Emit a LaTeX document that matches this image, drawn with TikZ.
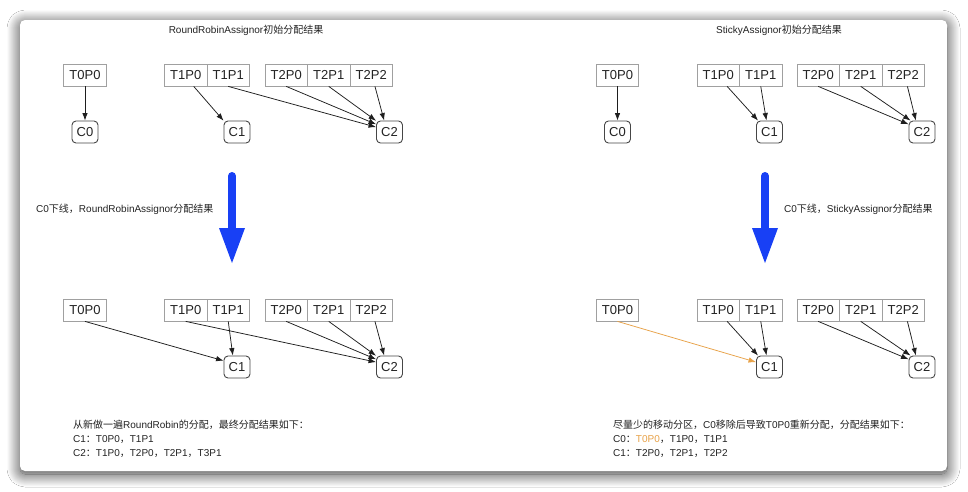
\documentclass[tikz,border=0pt]{standalone}
\usepackage{fontspec}
\setmainfont{Liberation Sans}
\newfontfamily\cjk{Noto Sans CJK SC}
\usetikzlibrary{shadows.blur,arrows.meta,calc}
\newcommand\zh[1]{{\cjk #1}}
\definecolor{txt}{RGB}{35,35,35}
\definecolor{boxgray}{RGB}{160,160,160}
\definecolor{cgray}{RGB}{70,70,70}
\definecolor{linecol}{RGB}{30,30,30}
\definecolor{blueA}{RGB}{24,64,245}
\definecolor{orangeA}{RGB}{232,162,72}
\begin{document}
\begin{tikzpicture}[x=1pt,y=-1pt,
  part/.style={draw=boxgray, line width=0.8pt, minimum width=42.5pt, minimum height=22pt, inner sep=0pt, font=\fontsize{13}{15}\selectfont, text=txt},
  cons/.style={draw=cgray, rounded corners=4pt, line width=0.9pt, minimum width=26pt, minimum height=22pt, inner sep=0pt, font=\fontsize{13}{15}\selectfont, text=txt},
  link/.style={-{Latex[length=7.5pt,width=5.5pt]}, line width=0.75pt, draw=linecol},
  olink/.style={-{Latex[length=7.5pt,width=5.5pt]}, line width=0.75pt, draw=orangeA},
  note/.style={font=\fontsize{10}{12}\selectfont, text=txt, inner sep=0pt},
  bigshaft/.style={draw=blueA, line width=8pt, line cap=round},
  bighead/.style={fill=blueA}]
\useasboundingbox (0,0) rectangle (968,491);
\fill[white] (0,0) rectangle (968,491);
% card
\fill[white, rounded corners=5pt, blur shadow={shadow blur radius=13pt, shadow blur steps=20, shadow xshift=0pt, shadow yshift=-3pt, shadow opacity=80}] (20,20) rectangle (947,471);

% ---------- titles ----------
\node[note] (titleL) at (246,30) {RoundRobinAssignor\zh{初始分配结果}};
\node[note] (titleR) at (779,30) {StickyAssignor\zh{初始分配结果}};

% ---------- top-left ----------
\node[part] (LT00) at (85,75) {T0P0};
\node[part] (LT10) at (185.75,75) {T1P0};
\node[part] (LT11) at (228.25,75) {T1P1};
\node[part] (LT20) at (286.25,75) {T2P0};
\node[part] (LT21) at (328.75,75) {T2P1};
\node[part] (LT22) at (371.25,75) {T2P2};
\node[cons] (LTC0) at (85,132) {C0};
\node[cons] (LTC1) at (237,132) {C1};
\node[cons] (LTC2) at (389.5,132) {C2};
\draw[link] (LT00.south) -- (LTC0.north);
\draw[link] (LT10.-55) -- (LTC1.140);
\draw[link] (LT11.south) -- (LTC2.160);
\draw[link] (LT20.south) -- (LTC2.150);
\draw[link] (LT21.south) -- (LTC2.140);
\draw[link] (LT22.-72) -- (LTC2.115);

% ---------- top-right ----------
\node[part] (RT00) at (617.5,75) {T0P0};
\node[part] (RT10) at (718.25,75) {T1P0};
\node[part] (RT11) at (760.75,75) {T1P1};
\node[part] (RT20) at (818.25,75) {T2P0};
\node[part] (RT21) at (860.75,75) {T2P1};
\node[part] (RT22) at (903.25,75) {T2P2};
\node[cons] (RTC0) at (617.5,132) {C0};
\node[cons] (RTC1) at (769.5,132) {C1};
\node[cons] (RTC2) at (922,132) {C2};
\draw[link] (RT00.south) -- (RTC0.north);
\draw[link] (RT10.-52) -- (RTC1.135);
\draw[link] (RT11.south) -- (RTC1.105);
\draw[link] (RT20.south) -- (RTC2.150);
\draw[link] (RT21.south) -- (RTC2.135);
\draw[link] (RT22.-70) -- (RTC2.118);

% ---------- big arrows ----------
\coordinate (LAtop) at (232,176);
\coordinate (LAmid) at (232,232);
\draw[bigshaft] (LAtop) -- (LAmid);
\fill[bighead] (219,228) -- (245,228) -- (232,263) -- cycle;
\node[note, anchor=west] (labL) at (36,209) {C0\zh{下线，}RoundRobinAssignor\zh{分配结果}};

\coordinate (RAtop) at (765,176);
\coordinate (RAmid) at (765,232);
\draw[bigshaft] (RAtop) -- (RAmid);
\fill[bighead] (752,228) -- (778,228) -- (765,263) -- cycle;
\node[note, anchor=west] (labR) at (784,209) {C0\zh{下线，}StickyAssignor\zh{分配结果}};

% ---------- bottom-left ----------
\node[part] (LB00) at (85,310) {T0P0};
\node[part] (LB10) at (185.75,310) {T1P0};
\node[part] (LB11) at (228.25,310) {T1P1};
\node[part] (LB20) at (286.25,310) {T2P0};
\node[part] (LB21) at (328.75,310) {T2P1};
\node[part] (LB22) at (371.25,310) {T2P2};
\node[cons] (LBC1) at (237,367) {C1};
\node[cons] (LBC2) at (389.5,367) {C2};
\draw[link] (LB00.south) -- (LBC1.155);
\draw[link] (LB10.south) -- (LBC2.160);
\draw[link] (LB11.south) -- (LBC1.110);
\draw[link] (LB20.south) -- (LBC2.150);
\draw[link] (LB21.south) -- (LBC2.140);
\draw[link] (LB22.-72) -- (LBC2.115);

% ---------- bottom-right ----------
\node[part] (RB00) at (617.5,310) {T0P0};
\node[part] (RB10) at (718.25,310) {T1P0};
\node[part] (RB11) at (760.75,310) {T1P1};
\node[part] (RB20) at (818.25,310) {T2P0};
\node[part] (RB21) at (860.75,310) {T2P1};
\node[part] (RB22) at (903.25,310) {T2P2};
\node[cons] (RBC1) at (769.5,367) {C1};
\node[cons] (RBC2) at (922,367) {C2};
\draw[olink] (RB00.south) -- (RBC1.160);
\draw[link] (RB10.-52) -- (RBC1.135);
\draw[link] (RB11.south) -- (RBC1.105);
\draw[link] (RB20.south) -- (RBC2.150);
\draw[link] (RB21.south) -- (RBC2.135);
\draw[link] (RB22.-70) -- (RBC2.118);

% ---------- notes ----------
\node[note, anchor=west] (nl1) at (73,425) {\zh{从新做一遍}RoundRobin\zh{的分配，最终分配结果如下：}};
\node[note, anchor=west] (nl2) at (73,439.5) {C1\zh{：}T0P0\zh{，}T1P1};
\node[note, anchor=west] (nl3) at (73,453.5) {C2\zh{：}T1P0\zh{，}T2P0\zh{，}T2P1\zh{，}T3P1};
\node[note, anchor=west] (nr1) at (613,425) {\zh{尽量少的移动分区，}C0\zh{移除后导致}T0P0\zh{重新分配，分配结果如下：}};
\node[note, anchor=west] (nr2) at (613,439.5) {C0\zh{：}\textcolor{orangeA}{T0P0}\zh{，}T1P0\zh{，}T1P1};
\node[note, anchor=west] (nr3) at (613,453.5) {C1\zh{：}T2P0\zh{，}T2P1\zh{，}T2P2};
\end{tikzpicture}
\end{document}
